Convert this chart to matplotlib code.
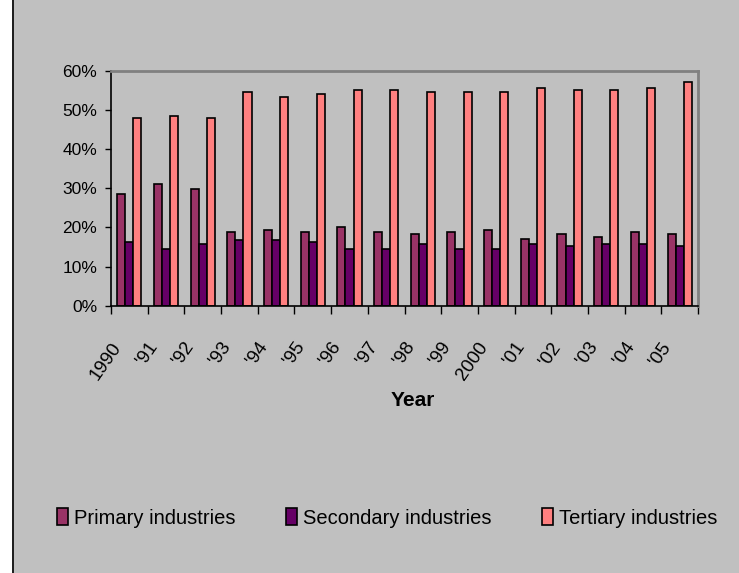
import matplotlib
matplotlib.use("Agg")
import matplotlib.pyplot as plt
import matplotlib.transforms as mtransforms
from matplotlib.patches import Rectangle
from matplotlib.lines import Line2D
import numpy as np

years = ["1990", "'91", "'92", "'93", "'94", "'95", "'96", "'97", "'98", "'99",
         "2000", "'01", "'02", "'03", "'04", "'05"]
primary = [28.5, 31.0, 29.8, 18.8, 19.3, 18.8, 20.0, 18.8, 18.3, 18.8,
           19.4, 17.0, 18.3, 17.6, 18.8, 18.3]
secondary = [16.3, 14.6, 15.8, 16.9, 16.9, 16.3, 14.6, 14.6, 15.8, 14.6,
             14.6, 15.8, 15.2, 15.8, 15.8, 15.2]
tertiary = [47.9, 48.5, 47.9, 54.6, 53.4, 54.0, 55.1, 55.1, 54.6, 54.6,
            54.6, 55.7, 55.1, 55.1, 55.7, 57.0]
series_names = ["Primary industries", "Secondary industries", "Tertiary industries"]
colors = ["#993366", "#660066", "#FF8080"]

plt.rcParams["font.family"] = ["Liberation Sans", "DejaVu Sans"]

W, H = 739, 573
fig = plt.figure(figsize=(W / 100, H / 100), dpi=100)
fig.patch.set_facecolor("#C0C0C0")
# white strip and black frame line at the left
fig.patches.append(Rectangle((0, 0), 12 / W, 1, transform=fig.transFigure,
                             facecolor="white", edgecolor="none", zorder=0))
fig.lines.append(Line2D([12.5 / W, 12.5 / W], [0, 1], transform=fig.transFigure,
                        color="black", lw=1.2))

ax = fig.add_axes([111 / W, 1 - 305.7 / H, 587 / W, 235 / H])
ax.set_facecolor("#C0C0C0")

x = np.arange(len(years))
bw = 0.22
for k, vals in enumerate([primary, secondary, tertiary]):
    ax.bar(x + (k - 1) * bw, vals, width=bw, color=colors[k], edgecolor="black",
           linewidth=1.2, label=series_names[k])

ax.set_xlim(-0.5, len(years) - 0.5)
ax.set_ylim(0, 60)
ax.set_yticks(range(0, 61, 10))
ax.set_yticklabels([f"{v}%" for v in range(0, 61, 10)], fontsize=12.5)
ax.tick_params(axis="y", direction="out", length=4, width=1, pad=6, colors="black")

ax.set_xticks(x)
ax.set_xticklabels(years, fontsize=13.5, rotation=55, ha="right", va="top")
ax.set_xticks(np.arange(-0.5, len(years), 1), minor=True)
ax.tick_params(axis="x", which="major", length=0, pad=24)
ax.tick_params(axis="x", which="minor", length=6, width=1, direction="out")
offset = mtransforms.ScaledTranslation(-5 / 100, 0, fig.dpi_scale_trans)
for lab in ax.get_xticklabels():
    lab.set_transform(lab.get_transform() + offset)

for s in ["left", "bottom"]:
    ax.spines[s].set_color("black")
    ax.spines[s].set_linewidth(1.2)
for s in ["top", "right"]:
    ax.spines[s].set_color("#808080")
    ax.spines[s].set_linewidth(2)

fig.text(413 / W, 1 - 401 / H, "Year", fontsize=15, fontweight="bold",
         ha="center", va="center")

fig.legend(loc="center", bbox_to_anchor=(387 / W, 1 - 518 / H), ncol=3,
           frameon=False, fontsize=14.5, handlelength=0.55, handleheight=0.85,
           handletextpad=0.3, columnspacing=2.5)

fig.savefig("out.png", dpi=100, facecolor=fig.get_facecolor())
